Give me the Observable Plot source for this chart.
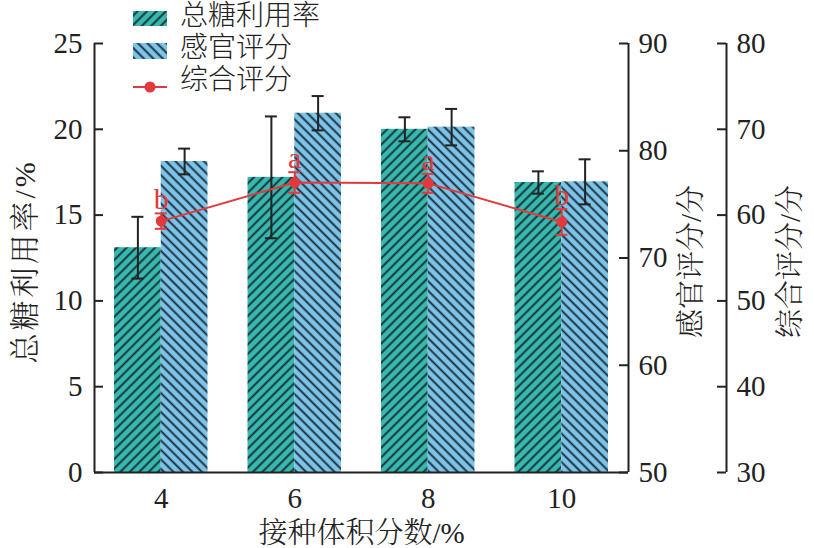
<!DOCTYPE html>
<html><head><meta charset="utf-8">
<script src="https://cdn.jsdelivr.net/npm/d3@7"></script>
<script src="https://cdn.jsdelivr.net/npm/@observablehq/plot@0.6"></script>
<style>
body{margin:0;background:#fff;}
#wrap{position:relative;width:814px;height:548px;overflow:hidden;}
#wrap svg text{font-family:"Liberation Serif","Times New Roman",Times,Tinos,"Nimbus Roman","DejaVu Serif","Noto Serif","Noto Serif CJK SC","Noto Sans CJK SC",serif !important;}
.lg{position:absolute;font-family:"Liberation Serif","Times New Roman","Noto Sans CJK SC",serif;font-weight:300;font-size:28px;color:#222;line-height:32px;white-space:nowrap;}
.sw{position:absolute;}
</style></head><body><div id="wrap"></div>
<script>
// ---- data ----
const categories = [4, 6, 8, 10];
const sugarUse   = [13.1, 17.2, 20.0, 16.9];
const sugarErr   = [1.8, 3.55, 0.7, 0.65];
const sensory    = [79.0, 83.5, 82.2, 77.1];
const sensoryErr = [1.2, 1.6, 1.7, 2.1];
const overall    = [59.3, 63.8, 63.7, 59.2];
const overallErr = [0.9, 1.2, 1.1, 1.5];
const letters    = ["b", "a", "a", "b"];
const leftTicks     = [0, 5, 10, 15, 20, 25];
const sensoryTicks  = [50, 60, 70, 80, 90];
const overallTicks  = [30, 40, 50, 60, 70, 80];
const seriesNames = ["总糖利用率", "感官评分", "综合评分"];
const xTitle = "接种体积分数/%";
const yTitles = ["总糖利用率/%", "感官评分/分", "综合评分/分"];

// ---- style ----
const GREEN = "#36b9ae", BLUE = "#7cc4ea", RED = "#e3393c", INK = "#222", HATCH = "#17252c";
const SERIF = "Liberation Serif";

const fromSensory = v => (v - 50) / 40 * 25;
const fromOverall = v => (v - 30) / 50 * 25;

const rows = categories.map((c, i) => ({
  c, sugar: sugarUse[i], sugarErr: sugarErr[i],
  sens: sensory[i], sensErr: sensoryErr[i],
  ov: overall[i], ovErr: overallErr[i], letter: letters[i]
}));

const pxPerUnit = 534 / 8;
const bw = 0.7;                 // bar width (x units)
const cap = 6 / pxPerUnit;      // half cap width
const tk = 9 / pxPerUnit;       // tick length
const xL = 3, xR = 11, x3 = 3 + 632 / pxPerUnit;

const errMarks = (data, xf, yf, ef, color) => [
  Plot.ruleX(data, {x: xf, y1: d => yf(d) - ef(d), y2: d => yf(d) + ef(d), stroke: color, strokeWidth: 2}),
  Plot.ruleY(data, {y: d => yf(d) + ef(d), x1: d => xf(d) - cap, x2: d => xf(d) + cap, stroke: color, strokeWidth: 2}),
  Plot.ruleY(data, {y: d => yf(d) - ef(d), x1: d => xf(d) - cap, x2: d => xf(d) + cap, stroke: color, strokeWidth: 2})
];

const svg = Plot.plot({
  width: 814, height: 548,
  marginTop: 43, marginBottom: 76, marginLeft: 94, marginRight: 186,
  x: {domain: [3, 11], axis: null},
  y: {domain: [0, 25], axis: null},
  style: {background: "transparent", overflow: "visible"},
  marks: [
    Plot.rectY(rows, {x1: d => d.c - bw, x2: d => d.c, y1: 0, y2: "sugar", fill: "url(#hatchG)"}),
    Plot.rectY(rows, {x1: d => d.c, x2: d => d.c + bw, y1: 0, y2: d => fromSensory(d.sens), fill: "url(#hatchB)"}),
    ...errMarks(rows, d => d.c - bw / 2, d => d.sugar, d => d.sugarErr, INK),
    ...errMarks(rows, d => d.c + bw / 2, d => fromSensory(d.sens), d => fromSensory(50 + d.sensErr), INK),
    Plot.line(rows, {x: "c", y: d => fromOverall(d.ov), stroke: RED, strokeWidth: 2}),
    ...errMarks(rows, d => d.c, d => fromOverall(d.ov), d => fromOverall(30 + d.ovErr), RED),
    Plot.dot(rows, {x: "c", y: d => fromOverall(d.ov), r: 5.5, fill: RED}),
    Plot.text(rows, {x: "c", y: d => fromOverall(d.ov + d.ovErr), text: "letter", dy: -4, lineAnchor: "bottom",
      fill: RED, fontSize: 30, fontFamily: SERIF}),
    // axes lines
    Plot.ruleX([xL, xR], {x: d => d, y1: 0, y2: 25, stroke: INK, strokeWidth: 2}),
    Plot.ruleX([x3], {x: d => d, y1: 0, y2: 25, stroke: INK, strokeWidth: 2}),
    Plot.ruleY([0], {y: d => d, x1: xL, x2: xR, stroke: INK, strokeWidth: 2}),
    // left axis
    Plot.ruleY(leftTicks, {y: d => d, x1: xL, x2: xL + tk, stroke: INK, strokeWidth: 2}),
    Plot.text(leftTicks, {x: xL, y: d => d, text: d => String(d), dx: -12, textAnchor: "end",
      fill: INK, fontSize: 29, fontFamily: SERIF}),
    // sensory axis
    Plot.ruleY(sensoryTicks, {y: d => fromSensory(d), x1: xR - tk, x2: xR, stroke: INK, strokeWidth: 2}),
    Plot.text(sensoryTicks, {x: xR, y: d => fromSensory(d), text: d => String(d), dx: 10, textAnchor: "start",
      fill: INK, fontSize: 29, fontFamily: SERIF}),
    // overall axis
    Plot.ruleY(overallTicks, {y: d => fromOverall(d), x1: x3 - tk, x2: x3, stroke: INK, strokeWidth: 2}),
    Plot.text(overallTicks, {x: x3, y: d => fromOverall(d), text: d => String(d), dx: 10, textAnchor: "start",
      fill: INK, fontSize: 29, fontFamily: SERIF}),
    // x tick labels
    Plot.text(categories, {x: d => d, y: 0, text: d => String(d), dy: 35, lineAnchor: "bottom",
      fill: INK, fontSize: 29, fontFamily: SERIF}),
    // titles
    Plot.text([xTitle], {x: () => 7, y: () => 0, text: d => d, dy: 70, lineAnchor: "bottom",
      fill: INK, fontSize: 29, fontWeight: 300, fontFamily: SERIF}),
    Plot.text([yTitles[0]], {x: () => 3 - 69 / pxPerUnit, y: () => 12.3, text: d => d, rotate: -90,
      fill: INK, fontSize: 30, fontWeight: 300, fontFamily: SERIF}),
    Plot.text([yTitles[1]], {x: () => 3 + 597 / pxPerUnit, y: () => 12.3, text: d => d, rotate: -90,
      fill: INK, fontSize: 29, fontWeight: 300, fontFamily: SERIF}),
    Plot.text([yTitles[2]], {x: () => 3 + 696 / pxPerUnit, y: () => 12.3, text: d => d, rotate: -90,
      fill: INK, fontSize: 29, fontWeight: 300, fontFamily: SERIF})
  ]
});

function addPatterns(sel, suffix) {
  const defs = sel.insert("defs", ":first-child");
  [["hatchG" + suffix, GREEN, 45], ["hatchB" + suffix, BLUE, -45]].forEach(([id, col, ang]) => {
    const p = defs.append("pattern").attr("id", id).attr("patternUnits", "userSpaceOnUse")
      .attr("width", 6.7).attr("height", 6.7).attr("patternTransform", `rotate(${ang})`);
    p.append("rect").attr("width", 6.7).attr("height", 6.7).attr("fill", col);
    p.append("line").attr("x1", 3.35).attr("y1", -1).attr("x2", 3.35).attr("y2", 7.7)
      .attr("stroke", HATCH).attr("stroke-width", 1.8);
  });
}
addPatterns(d3.select(svg), "");

const wrap = document.getElementById("wrap");
wrap.appendChild(svg);
// letter spacing for the left title
d3.select(svg).selectAll("text").filter(function() { return this.textContent === yTitles[0]; })
  .style("letter-spacing", "3px");

// legend
const lg = d3.select(wrap);
const swG = lg.append("svg").attr("class", "sw").style("left", "133px").style("top", "11px").attr("width", 34).attr("height", 15);
addPatterns(swG, "L");
swG.append("rect").attr("width", 34).attr("height", 15).attr("fill", "url(#hatchGL)");
const swB = lg.append("svg").attr("class", "sw").style("left", "133px").style("top", "43px").attr("width", 34).attr("height", 16);
addPatterns(swB, "M");
swB.append("rect").attr("width", 34).attr("height", 16).attr("fill", "url(#hatchBM)");
const swR = lg.append("svg").attr("class", "sw").style("left", "133px").style("top", "79px").attr("width", 34).attr("height", 16);
swR.append("line").attr("x1", 0).attr("x2", 34).attr("y1", 8).attr("y2", 8).attr("stroke", RED).attr("stroke-width", 2);
swR.append("circle").attr("cx", 17).attr("cy", 8).attr("r", 5.5).attr("fill", RED);
seriesNames.forEach((n, i) => {
  lg.append("div").attr("class", "lg").style("left", "180px").style("top", (i * 32) + "px").text(n);
});
</script></body></html>
